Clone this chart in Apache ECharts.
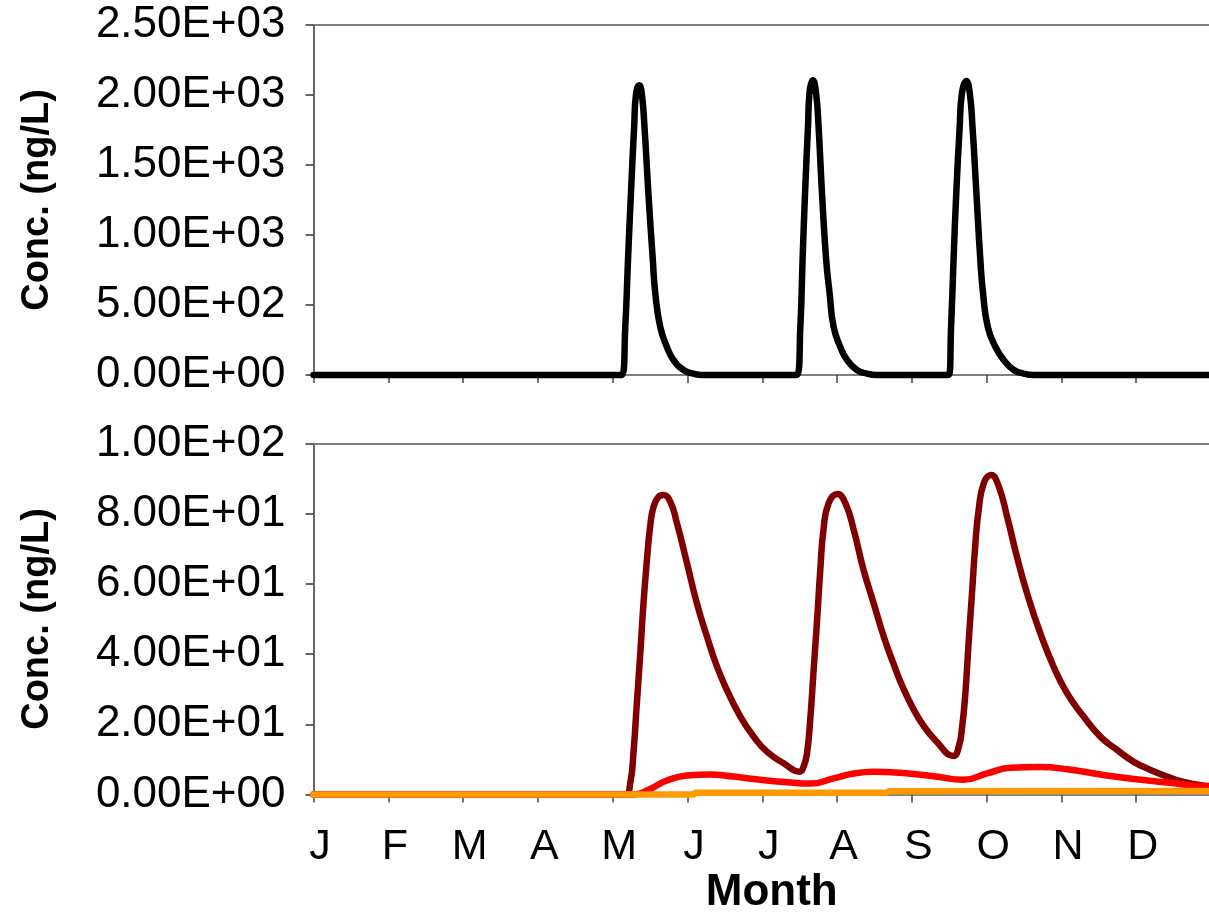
<!DOCTYPE html>
<html>
<head>
<meta charset="utf-8">
<script src="https://cdn.jsdelivr.net/npm/echarts@6/dist/echarts.min.js"></script>
<style>
  html, body { margin: 0; padding: 0; background: #fff; }
  #chart { width: 1209px; height: 915px; }
</style>
</head>
<body>
<div id="chart"></div>
<script>
// Month tick labels (one per month start, day-of-year axis)
const monthLabels = ['J', 'F', 'M', 'A', 'M', 'J', 'J', 'A', 'S', 'O', 'N', 'D'];
const DAYS_IN_YEAR = 365;
const MONTH_STEP = DAYS_IN_YEAR / 12;

// Upper panel: concentration pulses, [day, ng/L]
const pulseSeries = [
  [0, 0], [125.4, 0], [126.8, 345], [127.9, 821], [129.1, 1298], [130.4, 1774], [131.2, 2012],
  [132.5, 2070], [133.5, 2012], [134.6, 1774], [136.2, 1298], [138.0, 821], [139.0, 583],
  [141.0, 345], [143.7, 202], [146.4, 107], [150.5, 36], [154.5, 10], [158, 0],
  [196.6, 0], [198.0, 345], [198.9, 821], [199.9, 1298], [201.1, 1774], [201.7, 2012],
  [203.1, 2105], [204.4, 2012], [205.4, 1774], [206.8, 1298], [208.5, 821], [209.9, 583],
  [211.5, 345], [214.2, 202], [217.0, 107], [221.0, 36], [225.1, 10], [229, 0],
  [258.3, 0], [259.3, 345], [260.3, 821], [261.4, 1298], [262.8, 1774], [263.7, 2012],
  [265.5, 2100], [266.9, 2012], [268.0, 1774], [269.6, 1298], [271.2, 821], [272.3, 583],
  [274.2, 345], [277.3, 202], [280.7, 107], [284.8, 36], [288.8, 10], [293, 0],
  [365, 0]
];

// Lower panel, dark red series, [day, ng/L]
const darkRedSeries = [
  [0, 0], [126.8, 0], [128.8, 3.2], [130.1, 11.7], [131.5, 26], [132.9, 40.2], [134.2, 54.5],
  [135.6, 66.8], [136.9, 76.3], [138.3, 82], [140.3, 84.8], [142.3, 85.3], [145.1, 83.4],
  [147.8, 77.3], [151.9, 65.9], [155.9, 54.5], [160, 45], [164.1, 36.4], [168.1, 29.8],
  [173.6, 22.2], [179, 16.5], [184.4, 12.2], [191.2, 8.9], [197.7, 6.5], [199.3, 7.9],
  [200.7, 11.7], [202, 21.2], [203.4, 35.5], [204.8, 49.7], [206.1, 64], [207.4, 75.4],
  [209.5, 83], [213.1, 85.6], [216.3, 83], [219.7, 75.4], [223.7, 64], [227.8, 54.5],
  [231.9, 45], [235.9, 37.2], [239.5, 30.8], [243.5, 25], [247.5, 20.2], [253, 15.4],
  [260.3, 11], [262.4, 13.6], [263.8, 19.3], [265.1, 28.8], [266.4, 43], [267.8, 57.3],
  [269.2, 71.6], [270.5, 81], [272.6, 88.7], [275.6, 91], [278.7, 87.7], [282.1, 79.1],
  [286.1, 67.7], [290.2, 57.3], [295.6, 45.9], [301, 36.4], [306.5, 28.8], [313.2, 22.2],
  [320, 16.5], [326.8, 12.7], [333.6, 9.3], [340.4, 7], [347.2, 5.1], [353.9, 3.6],
  [364.1, 2.2], [365, 2.1]
];

// Lower panel, red series, [day, ng/L]
const redSeries = [
  [0, 0], [130.1, 0], [136.9, 1.6], [143.7, 4.0], [151.9, 5.4], [161.3, 5.7], [170.8, 5.1],
  [181.7, 4.2], [192.6, 3.5], [202, 3.1], [211.5, 4.6], [219.7, 6.0], [227.8, 6.5],
  [238.7, 6.2], [252.2, 5.2], [264.4, 4.2], [273.9, 6.0], [283.4, 7.6], [295.6, 7.8],
  [306.5, 7.2], [320, 5.7], [333.6, 4.4], [347.2, 3.4], [364.1, 2.4], [365, 2.4]
];

// Lower panel, orange series, [day, ng/L]
const orangeSeries = [
  [0, 0], [154.5, 0], [155.5, 0.5], [233, 0.5], [234, 0.9], [365, 1.0]
];

const FONT = '"Liberation Sans", Arial, sans-serif';

function sci(v) {
  const parts = v.toExponential(2).split('e');
  const sign = parts[1][0] === '-' ? '-' : '+';
  const digits = parts[1].replace(/[+-]/, '').padStart(2, '0');
  return parts[0] + 'E' + sign + digits;
}

function monthLabel(v) {
  const i = Math.round(v / MONTH_STEP);
  return i < 12 ? monthLabels[i] : '';
}

const bottomAxisBase = {
  type: 'value',
  min: 0,
  max: DAYS_IN_YEAR,
  interval: MONTH_STEP,
  position: 'bottom',
  axisLine: { show: true, lineStyle: { color: '#808080', width: 2 } },
  axisTick: { show: true, inside: false, length: 8, lineStyle: { color: '#444', width: 1.5 } },
  splitLine: { show: false }
};

const topLineAxis = (gridIndex) => ({
  type: 'value',
  gridIndex: gridIndex,
  min: 0,
  max: DAYS_IN_YEAR,
  position: 'top',
  axisLine: { show: true, lineStyle: { color: '#808080', width: 2 } },
  axisTick: { show: false },
  axisLabel: { show: false },
  splitLine: { show: false }
});

const yAxisBase = {
  type: 'value',
  min: 0,
  position: 'left',
  axisLine: { show: true, lineStyle: { color: '#333', width: 1.5 } },
  axisTick: { show: true, inside: false, length: 8, lineStyle: { color: '#333', width: 1.5 } },
  splitLine: { show: false },
  axisLabel: {
    formatter: sci,
    margin: 28,
    fontFamily: FONT,
    fontSize: 44,
    color: '#000'
  },
  name: 'Conc. (ng/L)',
  nameLocation: 'middle',
  nameGap: 257,
  nameTextStyle: { fontFamily: FONT, fontSize: 38, fontWeight: 'bold', color: '#000' }
};

const lineBase = {
  type: 'line',
  showSymbol: false,
  smooth: 0.5,
  clip: false,
  animation: false,
  lineStyle: { width: 6.5, cap: 'round', join: 'round' }
};

const chart = echarts.init(document.getElementById('chart'), null, { renderer: 'canvas' });

chart.setOption({
  backgroundColor: '#fff',
  animation: false,
  grid: [
    { left: 313.5, right: -2, top: 25, height: 350, outerBoundsMode: 'none', containLabel: false },
    { left: 313.5, right: -2, top: 443.5, height: 351, outerBoundsMode: 'none', containLabel: false }
  ],
  xAxis: [
    Object.assign({}, bottomAxisBase, { gridIndex: 0, axisLabel: { show: false } }),
    topLineAxis(0),
    Object.assign({}, bottomAxisBase, {
      gridIndex: 1,
      axisLabel: {
        formatter: monthLabel,
        margin: 31,
        padding: [0, 0, 0, 13],
        fontFamily: FONT,
        fontSize: 43,
        color: '#000',
        showMaxLabel: false
      },
      name: 'Month',
      nameLocation: 'middle',
      nameGap: 76,
      nameTextStyle: {
        fontFamily: FONT, fontSize: 44, fontWeight: 'bold', color: '#000',
        padding: [0, 0, 0, 19]
      }
    }),
    topLineAxis(1)
  ],
  yAxis: [
    Object.assign({}, yAxisBase, { gridIndex: 0, max: 2500, interval: 500 }),
    Object.assign({}, yAxisBase, { gridIndex: 1, max: 100, interval: 20 })
  ],
  series: [
    Object.assign({}, lineBase, {
      name: 'pulse', xAxisIndex: 0, yAxisIndex: 0, data: pulseSeries,
      lineStyle: Object.assign({}, lineBase.lineStyle, { color: '#000000' })
    }),
    Object.assign({}, lineBase, {
      name: 'dark red', xAxisIndex: 2, yAxisIndex: 1, data: darkRedSeries,
      lineStyle: Object.assign({}, lineBase.lineStyle, { color: '#800000' })
    }),
    Object.assign({}, lineBase, {
      name: 'red', xAxisIndex: 2, yAxisIndex: 1, data: redSeries,
      lineStyle: Object.assign({}, lineBase.lineStyle, { color: '#ff0000' })
    }),
    Object.assign({}, lineBase, {
      name: 'orange', xAxisIndex: 2, yAxisIndex: 1, data: orangeSeries, smooth: false,
      lineStyle: Object.assign({}, lineBase.lineStyle, { color: '#ff9900' })
    })
  ]
});
</script>
</body>
</html>
